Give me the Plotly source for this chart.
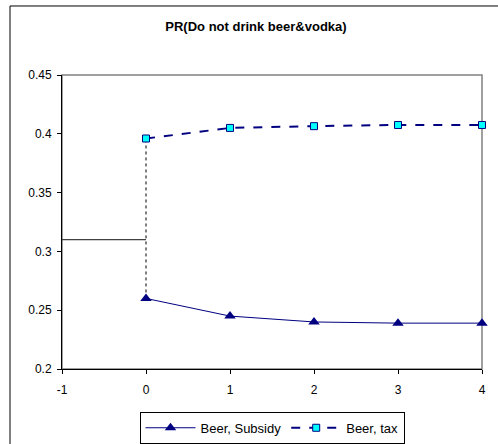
import plotly.graph_objects as go

# Periods and predicted probabilities
periods = [0, 1, 2, 3, 4]
beer_subsidy = [0.26, 0.245, 0.240, 0.239, 0.239]
beer_tax = [0.396, 0.405, 0.4065, 0.4075, 0.4075]

# Pre-reform baseline level
baseline_x = [-1, 0]
baseline_value = 0.31

x_ticks = [-1, 0, 1, 2, 3, 4]
x_tick_labels = ["-1", "0", "1", "2", "3", "4"]
y_ticks = [0.2, 0.25, 0.3, 0.35, 0.4, 0.45]
y_tick_labels = ["0.2", "0.25", "0.3", "0.35", "0.4", "0.45"]

FONT = "Liberation Sans, Arial, sans-serif"
NAVY = "#000080"

fig = go.Figure()

# Baseline before the reform
fig.add_trace(go.Scatter(
    x=baseline_x, y=[baseline_value] * len(baseline_x), mode="lines",
    line=dict(color="#404040", width=1.2), showlegend=False, hoverinfo="skip",
))

# Dotted connector at the reform date
fig.add_trace(go.Scatter(
    x=[periods[0], periods[0]], y=[beer_subsidy[0], beer_tax[0]], mode="lines",
    line=dict(color="#000000", width=1, dash="dot"), showlegend=False, hoverinfo="skip",
))

fig.add_trace(go.Scatter(
    x=periods, y=beer_subsidy, mode="lines+markers", name="Beer, Subsidy",
    line=dict(color=NAVY, width=1),
    marker=dict(symbol="triangle-up", size=10, color=NAVY, line=dict(color=NAVY, width=0)),
    cliponaxis=False,
))

fig.add_trace(go.Scatter(
    x=periods, y=beer_tax, mode="lines+markers", name="Beer, tax",
    line=dict(color=NAVY, width=2, dash="dash"),
    marker=dict(symbol="square", size=7, color="#00FFFF", line=dict(color=NAVY, width=1)),
    cliponaxis=False,
))

# Outer chart frame: only its left and top edges lie on the canvas
fig.add_shape(type="path", xref="paper", yref="paper",
              path="M -0.1238,-0.5 L -0.1238,1.2347 L 1.3,1.2347",
              line=dict(color="#000000", width=1), layer="below")
# Gray plot-area frame
fig.add_shape(type="rect", xref="paper", yref="paper",
              x0=0, x1=1, y0=0, y1=1,
              line=dict(color="#808080", width=1.5), layer="below")

fig.update_layout(
    width=498, height=444,
    margin=dict(l=62, r=16, t=75, b=75, autoexpand=False),
    paper_bgcolor="white", plot_bgcolor="white",
    font=dict(family=FONT, size=12, color="#000000"),
    title=dict(text="<b>PR(Do not drink beer&vodka)</b>", x=0.514, xref="container",
               xanchor="center", y=0.941, yref="container", yanchor="middle",
               font=dict(family=FONT, size=13, color="#000000")),
    showlegend=True,
    legend=dict(orientation="h", x=0.5, xanchor="center", y=-0.2, yanchor="middle",
                bordercolor="#000000", borderwidth=1, bgcolor="white",
                font=dict(family=FONT, size=13), tracegroupgap=0, itemwidth=50),
    xaxis=dict(range=[-1, 4], tickvals=x_ticks, ticktext=x_tick_labels,
               showgrid=False, zeroline=False, showline=True, linecolor="#000000",
               linewidth=1, ticks="outside", ticklen=4, tickcolor="#000000",
               ticklabelstandoff=6, tickfont=dict(size=12)),
    yaxis=dict(range=[0.2, 0.45], tickvals=y_ticks, ticktext=y_tick_labels,
               showgrid=False, zeroline=False, showline=True, linecolor="#000000",
               linewidth=1, ticks="outside", ticklen=4, tickcolor="#000000",
               ticklabelstandoff=3, tickfont=dict(size=12)),
)

fig.write_html("out.html")
